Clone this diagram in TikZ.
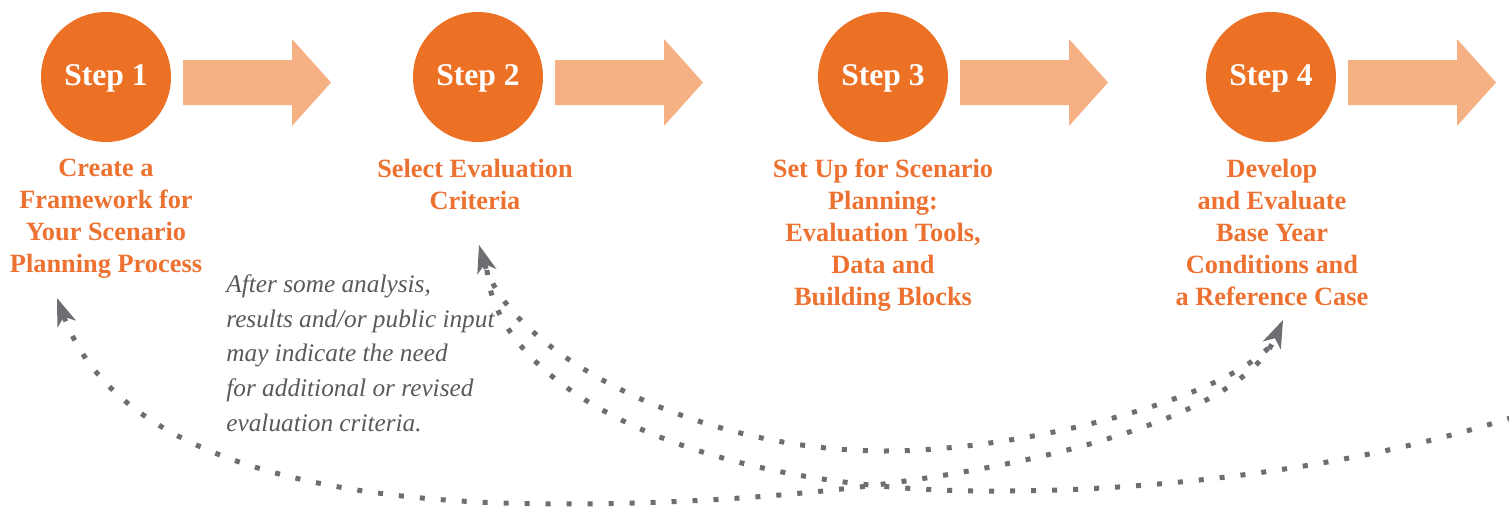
\documentclass[tikz,border=0pt]{standalone}
\usepackage{fontspec}
\setmainfont{Liberation Serif}
\usetikzlibrary{arrows.meta,calc}
\definecolor{orangeC}{HTML}{ED7125}
\definecolor{orangeL}{HTML}{F5B183}
\definecolor{orangeT}{HTML}{ED7130}
\definecolor{dotgray}{HTML}{6D6E71}
\definecolor{textgray}{HTML}{58595B}
\begin{document}
\begin{tikzpicture}[x=0.02cm,y=-0.02cm,
  stepcircle/.style={circle,fill=orangeC,minimum size=2.6cm,inner sep=0pt,text=white,
    text height=12pt,text depth=2pt,
    font=\fontsize{18}{20}\selectfont\bfseries},
  steplabel/.style={anchor=north,align=center,inner sep=0pt,text=orangeT,
    font=\fontsize{15}{18.14}\selectfont\bfseries},
  notetext/.style={anchor=north west,align=left,inner sep=0pt,text=textgray,
    font=\fontsize{14.4}{19.84}\selectfont\itshape},
  loopline/.style={draw=dotgray,line width=0.1cm,dash pattern=on 0.1cm off 0.32cm},
  headstart/.style={{Stealth[length=0.56cm,width=0.4cm,inset=0.16cm,line width=0pt,fill=dotgray]}-},
  headboth/.style={{Stealth[length=0.56cm,width=0.4cm,inset=0.16cm,line width=0pt,fill=dotgray]}-{Stealth[length=0.56cm,width=0.4cm,inset=0.16cm,line width=0pt,fill=dotgray]}},
  blockarrow/.pic={\fill[orangeL] (0,-22.5) -- (109,-22.5) -- (109,-43.5) -- (148,0) -- (109,43.5) -- (109,22.5) -- (0,22.5) -- cycle;}
]
\useasboundingbox (0,0) rectangle (1509,507);

% step circles
\node[stepcircle] (s1) at (106,77) {Step 1};
\node[stepcircle] (s2) at (478,77) {Step 2};
\node[stepcircle] (s3) at (883,77) {Step 3};
\node[stepcircle] (s4) at (1271,77) {Step 4};

% block arrows
\foreach \n in {1,2,3,4}{
  \pic at ($(s\n.center)+(77,5.5)$) {blockarrow};
}

% labels
\node[steplabel] (l1) at (106,159) {Create a\\Framework for\\Your Scenario\\Planning Process};
\node[steplabel] (l2) at (475,159) {Select Evaluation\\Criteria};
\node[steplabel] (l3) at (883,159) {Set Up for Scenario\\Planning:\\Evaluation Tools,\\Data and\\Building Blocks};
\node[steplabel] (l4) at (1272,159) {Develop\\and Evaluate\\Base Year\\Conditions and\\a Reference Case};

\node[notetext] (note) at (226,274) {After some analysis,\\results and/or public input\\may indicate the need\\for additional or revised\\evaluation criteria.};

% loop coordinates
\coordinate (h1) at (57,298);
\coordinate (h2) at (479,245);
\coordinate (h4) at (1283,320);
\coordinate (b2) at (487,270);
\coordinate (b4) at (1273,343);
\coordinate (m1) at (560,504);
\coordinate (m3) at (885,451);
\coordinate (m2) at (1000,491);
\coordinate (e2) at (1520,415);

% dotted feedback loops
\draw[loopline,headboth] (h1) .. controls (110,440) and (280,504) .. (m1)
   .. controls (900,504) and (1230,440) .. (h4);
\draw[loopline,headstart] (h2) .. controls (510,350) and (690,451) .. (m3)
   .. controls (1020,451) and (1225,400) .. (b4);
\draw[loopline] (b2) .. controls (495,380) and (680,493) .. (m2)
   .. controls (1150,491) and (1350,470) .. (e2);
\end{tikzpicture}
\end{document}
